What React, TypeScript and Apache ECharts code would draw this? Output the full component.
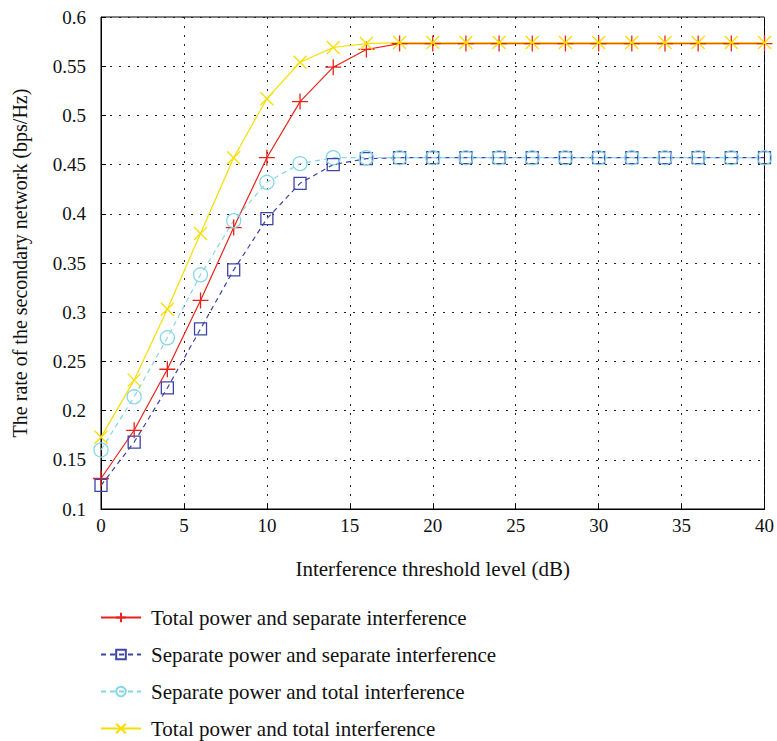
import React, { useEffect, useRef } from "react";
import * as echarts from "echarts";

const xValues = [0, 2, 4, 6, 8, 10, 12, 14, 16, 18, 20, 22, 24, 26, 28, 30, 32, 34, 36, 38, 40];
const totalPowerSepInterf = [0.131, 0.180, 0.242, 0.312, 0.386, 0.457, 0.514, 0.549, 0.567, 0.573, 0.573, 0.573, 0.573, 0.573, 0.573, 0.573, 0.573, 0.573, 0.573, 0.573, 0.573];
const sepPowerSepInterf = [0.124, 0.168, 0.223, 0.283, 0.343, 0.395, 0.431, 0.450, 0.456, 0.457, 0.457, 0.457, 0.457, 0.457, 0.457, 0.457, 0.457, 0.457, 0.457, 0.457, 0.457];
const sepPowerTotalInterf = [0.160, 0.214, 0.274, 0.338, 0.393, 0.432, 0.451, 0.457, 0.457, 0.457, 0.457, 0.457, 0.457, 0.457, 0.457, 0.457, 0.457, 0.457, 0.457, 0.457, 0.457];
const totalPowerTotalInterf = [0.173, 0.231, 0.303, 0.380, 0.457, 0.517, 0.554, 0.569, 0.573, 0.574, 0.574, 0.574, 0.574, 0.574, 0.574, 0.574, 0.574, 0.574, 0.574, 0.574, 0.574];

const seriesNames = [
  "Total power and separate interference",
  "Separate power and separate interference",
  "Separate power and total interference",
  "Total power and total interference",
];

const FONT = "'Liberation Serif', 'DejaVu Serif', serif";

export default function App() {
  const ref = useRef<HTMLDivElement>(null);
  useEffect(() => {
    document.body.style.margin = "0";
    if (!ref.current) return;
    const chart = echarts.init(ref.current, undefined, { renderer: "svg" });
    const pair = (arr: number[]) => xValues.map((x, i) => [x, arr[i]]);
    const plus = "path://M0,5L10,5M5,0L5,10";
    const cross = "path://M0,0L10,10M10,0L0,10";
    const mk = (
      name: string,
      data: number[],
      color: string,
      symbol: string,
      size: number,
      dashed: boolean
    ) => ({
      name,
      type: "line",
      data: pair(data),
      symbol,
      symbolSize: size,
      showAllSymbol: true,
      lineStyle: { color, width: 1.2, type: dashed ? [5, 4] : "solid" },
      itemStyle: { color: "rgba(0,0,0,0)", borderColor: color, borderWidth: 1.3 },
      z: 2,
    });
    chart.setOption({
      animation: false,
      backgroundColor: "#fff",
      textStyle: { fontFamily: FONT },
      grid: {
        left: 101,
        right: 11,
        top: 17,
        bottom: 232,
        show: true,
        borderColor: "#000",
        borderWidth: 1,
        backgroundColor: "transparent",
      },
      xAxis: {
        type: "value",
        min: 0,
        max: 40,
        interval: 5,
        name: "Interference threshold level (dB)",
        nameLocation: "middle",
        nameGap: 49,
        nameTextStyle: { fontFamily: FONT, fontSize: 21, color: "#111" },
        axisLine: { show: true, lineStyle: { color: "#000", width: 1 } },
        axisTick: { show: true, inside: true, length: 5, lineStyle: { color: "#000" } },
        axisLabel: { fontFamily: FONT, fontSize: 19, color: "#111", margin: 7 },
        splitLine: { show: true, lineStyle: { color: "#222", type: [2, 7], width: 1 } },
      },
      yAxis: {
        type: "value",
        min: 0.1,
        max: 0.6,
        interval: 0.05,
        name: "The rate of the secondary network (bps/Hz)",
        nameLocation: "middle",
        nameGap: 71,
        nameTextStyle: { fontFamily: FONT, fontSize: 20, color: "#111" },
        axisLine: { show: true, lineStyle: { color: "#000", width: 1 } },
        axisTick: { show: true, inside: true, length: 5, lineStyle: { color: "#000" } },
        axisLabel: {
          fontFamily: FONT,
          fontSize: 19,
          color: "#111",
          margin: 15,
          formatter: (v: number) => String(parseFloat(v.toFixed(2))),
        },
        splitLine: { show: true, lineStyle: { color: "#222", type: [2, 7], width: 1 } },
      },
      legend: {
        orient: "vertical",
        left: 100,
        top: 607,
        padding: 0,
        itemWidth: 40,
        itemHeight: 12,
        itemGap: 16,
        textStyle: { fontFamily: FONT, fontSize: 21, color: "#111", padding: [0, 0, 0, 5] },
        data: seriesNames,
      },
      series: [
        mk(seriesNames[0], totalPowerSepInterf, "#e8231c", plus, 16, false),
        mk(seriesNames[1], sepPowerSepInterf, "#3c44a8", "rect", 12, true),
        mk(seriesNames[2], sepPowerTotalInterf, "#86d6e8", "circle", 14, true),
        mk(seriesNames[3], totalPowerTotalInterf, "#f7de00", cross, 13, false),
      ],
    });
    return () => chart.dispose();
  }, []);
  return <div ref={ref} style={{ width: 777, height: 741 }} />;
}
